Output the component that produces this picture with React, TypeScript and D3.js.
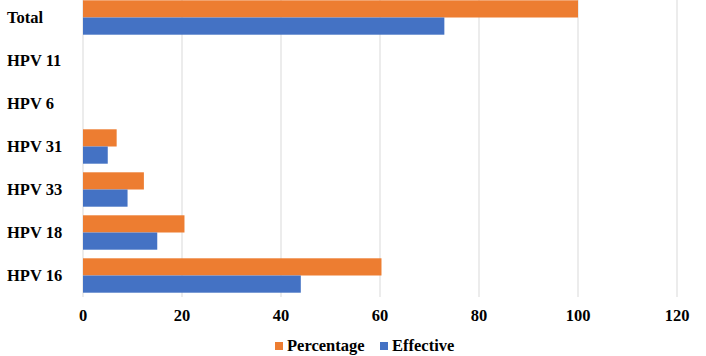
import React from "react";
import * as d3 from "d3";

const categories = ["Total", "HPV 11", "HPV 6", "HPV 31", "HPV 33", "HPV 18", "HPV 16"];
const percentage = [100, 0, 0, 6.8, 12.3, 20.5, 60.3];
const effective = [73, 0, 0, 5.0, 9.0, 15.0, 44.0];
const seriesNames = ["Percentage", "Effective"];
const seriesColors = ["#ED7D31", "#4472C4"];
const xTicks = [0, 20, 40, 60, 80, 100, 120];

const W = 706;
const H = 356;
const FONT = "'Liberation Serif', 'Times New Roman', serif";

export default function App() {
  const x = d3.scaleLinear().domain([0, 120]).range([83, 677]);
  const y = d3
    .scaleBand<string>()
    .domain(categories)
    .range([-4, 297])
    .paddingInner(0.2)
    .paddingOuter(0.1);
  const inner = d3
    .scaleBand<string>()
    .domain(seriesNames)
    .range([0, y.bandwidth()]);
  const series = [percentage, effective];

  return (
    <svg
      width={W}
      height={H}
      style={{ position: "absolute", left: 0, top: 0, background: "#fff" }}
      fontFamily={FONT}
      fontWeight="bold"
    >
      <rect x={0} y={0} width={W} height={H} fill="#fff" />
      {xTicks.map((t) => (
        <line
          key={"g" + t}
          x1={x(t)}
          x2={x(t)}
          y1={0}
          y2={297}
          stroke="#d9d9d9"
          strokeWidth={1}
        />
      ))}
      {categories.map((c, i) =>
        series.map((s, j) => (
          <rect
            key={c + j}
            x={x(0)}
            y={(y(c) as number) + (inner(seriesNames[j]) as number)}
            width={Math.max(0, x(s[i]) - x(0))}
            height={inner.bandwidth()}
            fill={seriesColors[j]}
          />
        ))
      )}
      {categories.map((c) => (
        <text
          key={"l" + c}
          x={7}
          y={(y(c) as number) + y.bandwidth() / 2 + 5.5}
          fontSize={16.5}
          fill="#000"
        >
          {c}
        </text>
      ))}
      {xTicks.map((t) => (
        <text
          key={"t" + t}
          x={x(t)}
          y={321}
          textAnchor="middle"
          fontSize={16.5}
          fill="#000"
        >
          {t}
        </text>
      ))}
      {seriesNames.map((n, j) => {
        const lx = j === 0 ? 275 : 380;
        return (
          <g key={"lg" + n}>
            <rect x={lx} y={342} width={8} height={8} fill={seriesColors[j]} />
            <text x={lx + 12} y={351} fontSize={16.5} fill="#000">
              {n}
            </text>
          </g>
        );
      })}
    </svg>
  );
}
